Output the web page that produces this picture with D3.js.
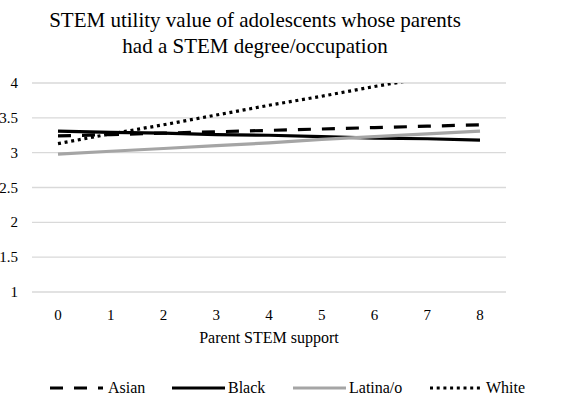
<!DOCTYPE html>
<html><head><meta charset="utf-8">
<script src="https://cdn.jsdelivr.net/npm/d3@7"></script>
<style>body{margin:0;background:#fff}</style>
</head><body><svg id="c" width="586" height="404"></svg>
<script>
const categories = [0,1,2,3,4,5,6,7,8];
const asian   = [3.24,3.26,3.28,3.30,3.32,3.34,3.36,3.38,3.40];
const black   = [3.31,3.29,3.28,3.26,3.25,3.23,3.21,3.20,3.18];
const latina  = [2.98,3.02,3.06,3.10,3.14,3.19,3.23,3.27,3.31];
const white   = [3.13,3.27,3.40,3.54,3.68,3.81,3.95,4.08,4.22];
const yTicks  = [1,1.5,2,2.5,3,3.5,4];
const titleLines = ["STEM utility value of adolescents whose parents","had a STEM degree/occupation"];
const xTitle = "Parent STEM support";
const seriesNames = ["Asian","Black","Latina/o","White"];
const seriesData = [asian, black, latina, white];
const seriesStyle = [
  {color:"#000", dash:"13,11", w:3.2},
  {color:"#000", dash:null, w:3.2},
  {color:"#a5a5a5", dash:null, w:3.2},
  {color:"#000", dash:"3,3.7", w:3.2}
];
const FF = "Liberation Serif, Times New Roman, serif";

const svg = d3.select("#c");
const x = d3.scalePoint().domain(categories).range([58, 480]);
const y = d3.scaleLinear().domain([1,4]).range([292, 83]);

function txt(sel, size){
  return sel.attr("font-family","Liberation Serif").style("font-family",FF)
    .style("font-size",size+"px").attr("fill","#000");
}

// title
txt(svg.append("g").selectAll("text").data(titleLines).join("text")
  .attr("x", 255).attr("y", (d,i)=>27+i*26).attr("text-anchor","middle"),21).text(d=>d);

// gridlines
svg.append("g").selectAll("line").data(yTicks).join("line")
  .attr("x1",32).attr("x2",506).attr("y1",d=>y(d)).attr("y2",d=>y(d))
  .attr("stroke","#d9d9d9").attr("stroke-width",1.3);

// y labels
txt(svg.append("g").selectAll("text").data(yTicks).join("text")
  .attr("x",18).attr("y",d=>y(d)+5).attr("text-anchor","end"),15).text(d=>d);

// x labels
txt(svg.append("g").selectAll("text").data(categories).join("text")
  .attr("x",d=>x(d)).attr("y",320).attr("text-anchor","middle"),15).text(d=>d);

txt(svg.append("text").attr("x",269).attr("y",343).attr("text-anchor","middle"),16).text(xTitle);

svg.append("defs").append("clipPath").attr("id","clip")
  .append("rect").attr("x",0).attr("y",y(4)).attr("width",586).attr("height",y(1)-y(4)+10);

const line = d3.line().x((d,i)=>x(categories[i])).y(d=>y(d));
const g = svg.append("g").attr("clip-path","url(#clip)");
seriesData.forEach((s,i)=>{
  const st = seriesStyle[i];
  g.append("path").attr("d",line(s)).attr("fill","none")
    .attr("stroke",st.color).attr("stroke-width",st.w)
    .attr("stroke-dasharray",st.dash);
});

// legend
const legX = [50,172,293,430];
const legY = 392;
seriesNames.forEach((n,i)=>{
  const st = seriesStyle[i];
  svg.append("line").attr("x1",legX[i]).attr("x2",legX[i]+53)
    .attr("y1",legY-4).attr("y2",legY-4)
    .attr("stroke",st.color).attr("stroke-width",st.w).attr("stroke-dasharray",st.dash);
  txt(svg.append("text").attr("x",legX[i]+(i===0?58:56)).attr("y",legY+1),16).text(n);
});
</script></body></html>
